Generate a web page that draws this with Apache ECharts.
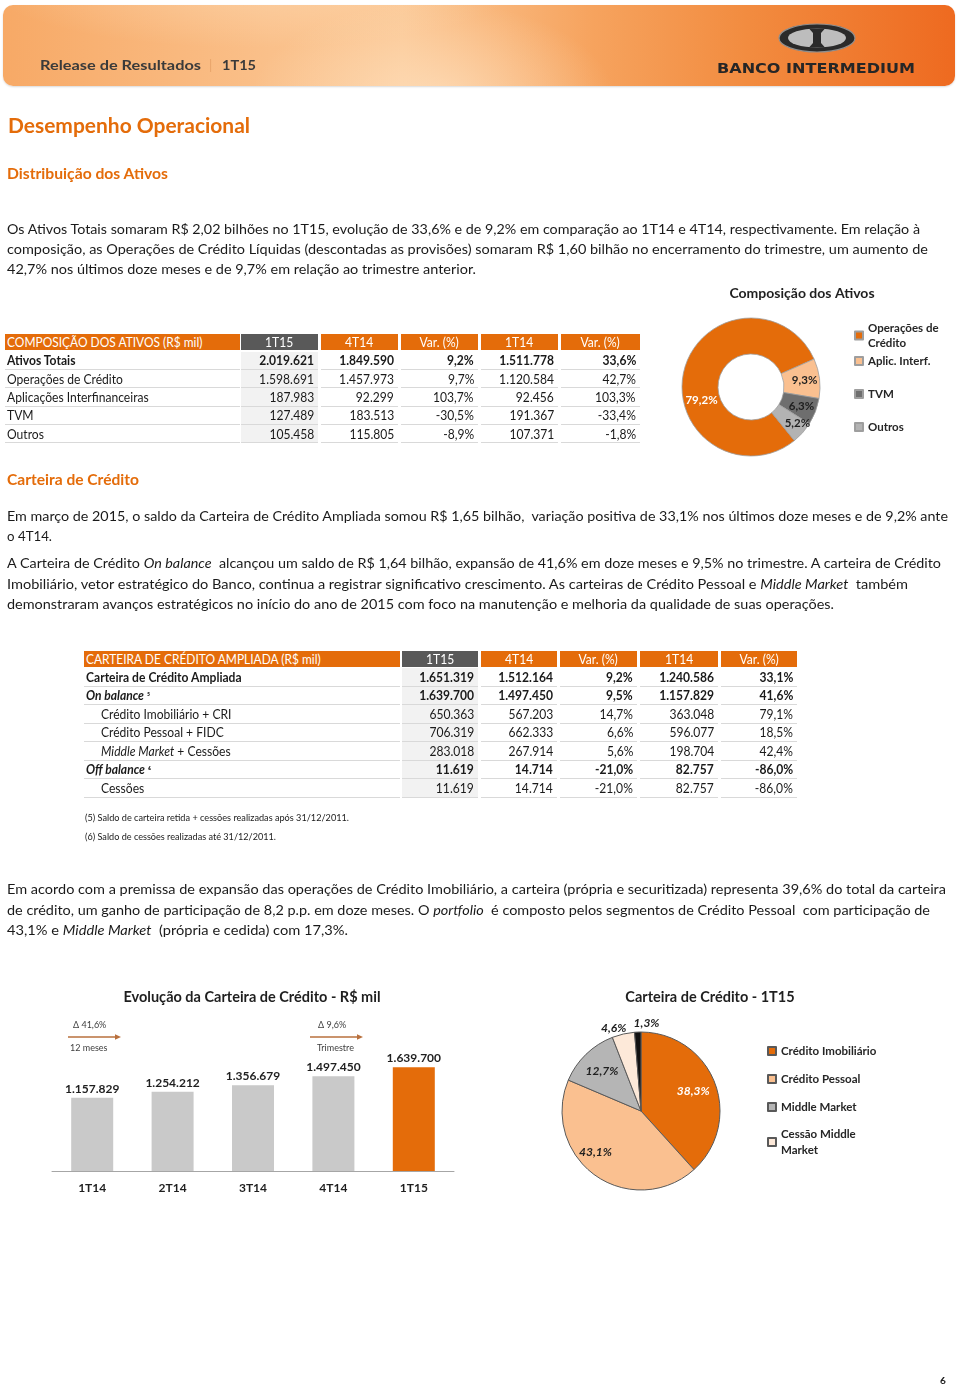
<!DOCTYPE html>
<html><head><meta charset="utf-8">
<script src="https://cdn.jsdelivr.net/npm/echarts@6/dist/echarts.min.js"></script>
<style>
html,body{margin:0;padding:0;background:#fff;}
#page{position:relative;width:960px;height:1387px;overflow:hidden;font-family:Lato,'Open Sans',sans-serif;color:#1a1a1a;}
#chart{position:absolute;left:0;top:0;width:960px;height:1387px;}
.t{position:absolute;white-space:nowrap;transform-origin:0 50%;}
#banner{position:absolute;left:3px;top:5px;width:952px;height:81px;border-radius:10px;
background:
 radial-gradient(ellipse 260px 140px at 430px 95px, rgba(255,230,200,0.65), rgba(255,230,200,0) 70%),
 radial-gradient(ellipse 380px 90px at 250px -20px, rgba(255,225,190,0.45), rgba(255,225,190,0) 70%),
 linear-gradient(90deg,#F7A966 0%,#FAC08A 28%,#FBC794 42%,#F6A35E 62%,#F28C40 78%,#EE6A20 100%);
box-shadow:0 1px 2px rgba(0,0,0,0.15);}
</style></head><body>
<div id="page"><div id="chart"></div><div id="banner"></div>
<svg width="90" height="40" style="position:absolute;left:772px;top:18px">
<ellipse cx="45" cy="20" rx="38" ry="14" fill="#2A2A2A" stroke="#8E8E8E" stroke-width="1.2"/>
<ellipse cx="45" cy="20" rx="29" ry="9.5" fill="#BDBDBD"/>
<path d="M37 10.5 H53 L49 15 V25 L53 29.5 H37 L41 25 V15 Z" fill="#2A2A2A"/>
</svg>
</div>
<script>
// ---------- DATA ----------
const assetCols = ['1T15', '4T14', 'Var. (%)', '1T14', 'Var. (%)'];
const assetRows = ['Ativos Totais', 'Operações de Crédito', 'Aplicações Interfinanceiras', 'TVM', 'Outros'];
const assets1T15 = [2019621, 1598691, 187983, 127489, 105458];
const assets4T14 = [1849590, 1457973, 92299, 183513, 115805];
const assetsVarQ = [9.2, 9.7, 103.7, -30.5, -8.9];
const assets1T14 = [1511778, 1120584, 92456, 191367, 107371];
const assetsVarY = [33.6, 42.7, 103.3, -33.4, -1.8];

const assetShareNames = ['Operações de Crédito', 'Aplic. Interf.', 'TVM', 'Outros'];
const assetShares = [79.2, 9.3, 6.3, 5.2];

const creditCols = ['1T15', '4T14', 'Var. (%)', '1T14', 'Var. (%)'];
const creditRows = ['Carteira de Crédito Ampliada', 'On balance ⁵', 'Crédito Imobiliário + CRI', 'Crédito Pessoal + FIDC', 'Middle Market + Cessões', 'Off balance ⁶', 'Cessões'];
const creditIndent = [0, 0, 1, 1, 1, 0, 1];
const credit1T15 = [1651319, 1639700, 650363, 706319, 283018, 11619, 11619];
const credit4T14 = [1512164, 1497450, 567203, 662333, 267914, 14714, 14714];
const creditVarQ = [9.2, 9.5, 14.7, 6.6, 5.6, -21.0, -21.0];
const credit1T14 = [1240586, 1157829, 363048, 596077, 198704, 82757, 82757];
const creditVarY = [33.1, 41.6, 79.1, 18.5, 42.4, -86.0, -86.0];

const evoQuarters = ['1T14', '2T14', '3T14', '4T14', '1T15'];
const evoValues = [1157829, 1254212, 1356679, 1497450, 1639700];
const growthDeltas = ['Δ 41,6%', 'Δ 9,6%'];
const growthPeriods = ['12 meses', 'Trimestre'];

const portfolioNames = ['Crédito Imobiliário', 'Crédito Pessoal', 'Middle Market', 'Cessão Middle Market', 'Outros'];
const portfolioShares = [38.3, 43.1, 12.7, 4.6, 1.3];

// ---------- HELPERS ----------
const page = document.getElementById('page');
const fmtInt = n => String(n).replace(/\B(?=(\d{3})+(?!\d))/g, '.');
const fmtPct = v => v.toFixed(1).replace('.', ',') + '%';
const ORANGE = '#E46C0A';
const fits = [];
function addText(x, yc, html, o) {
  o = o || {};
  const fs = o.fs || 14, lh = o.lh || Math.round(fs * 1.4);
  const d = document.createElement('div');
  d.className = 't';
  d.style.cssText = `left:${x}px;top:${yc - lh / 2}px;height:${lh}px;line-height:${lh}px;font-size:${fs}px;` + (o.css || '');
  d.innerHTML = html;
  page.appendChild(d);
  if (o.w) fits.push([d, o.w]);
  else if (o.sx) d.style.transform = `scaleX(${o.sx})`;
  return d;
}
function doFit() {
  fits.forEach(([d, w]) => {
    d.style.transform = 'none';
    const nat = d.getBoundingClientRect().width;
    if (nat > 0) d.style.transform = `scaleX(${w / nat})`;
  });
}
function cell(x, y, w, h, text, o) {
  o = o || {};
  const al = o.align || 'left';
  const d = document.createElement('div');
  d.style.cssText = `position:absolute;left:${x}px;top:${y}px;width:${w}px;height:${h}px;display:flex;align-items:center;box-sizing:border-box;white-space:nowrap;font-size:${o.fs || 13}px;color:${o.color || '#1a1a1a'};` +
    `justify-content:${al === 'right' ? 'flex-end' : al === 'center' ? 'center' : 'flex-start'};` +
    (al === 'right' ? `padding-right:${o.pad == null ? 4 : o.pad}px;` : al === 'left' ? `padding-left:${o.pad == null ? 2 : o.pad}px;` : '') +
    (o.bg ? `background:${o.bg};` : '') + (o.border ? `border-bottom:1px solid ${o.border};` : '') + (o.css || '');
  const s = document.createElement('span');
  s.innerHTML = text;
  s.style.cssText = `display:inline-block;transform:scaleX(${o.sx || 0.93});transform-origin:${al === 'right' ? 'right' : al === 'center' ? 'center' : 'left'} center;`;
  d.appendChild(s);
  page.appendChild(d);
}
function buildTable(cfg) {
  const { cols, colX, headTop, headH, rowTop, rowH, headLabel, labels, valueCols, boldRows, labelFn, indent } = cfg;
  cell(colX[0][0], headTop, colX[0][1] - colX[0][0], headH, headLabel, { bg: ORANGE, color: '#fff', pad: 2, sx: 0.92 });
  cols.forEach((c, i) => {
    const [a, b] = colX[i + 1];
    cell(a, headTop, b - a, headH, c, { bg: i === 0 ? '#595959' : ORANGE, color: '#fff', align: 'center' });
  });
  labels.forEach((lab, r) => {
    const y = rowTop + r * rowH;
    const bold = boldRows.indexOf(r) >= 0;
    const bcss = bold ? 'font-weight:bold;' : '';
    cell(colX[0][0], y, colX[0][1] - colX[0][0], rowH, labelFn(lab, r), { border: '#D9D9D9', pad: 2 + (indent ? indent[r] * 15 : 0), css: bcss });
    valueCols.forEach((vals, i) => {
      const [a, b] = colX[i + 1];
      const isPct = i === 2 || i === 4;
      cell(a, y, b - a, rowH, isPct ? fmtPct(vals[r]) : fmtInt(vals[r]), { align: 'right', pad: 4, bg: i === 0 ? '#F2F2F2' : null, border: '#D9D9D9', css: bcss });
    });
  });
}

// ---------- HEADER ----------
addText(40, 65, 'Release de Resultados', { fs: 14, w: 161, css: 'font-weight:bold;color:#3A3A3A;' });
addText(209, 65, '|', { fs: 13, css: 'color:#E8A46A;' });
addText(222, 65, '1T15', { fs: 14, w: 34, css: 'font-weight:bold;color:#3A3A3A;' });
addText(717, 68, 'BANCO INTERMEDIUM', { fs: 14, w: 198, css: "font-family:'DejaVu Sans',sans-serif;font-weight:bold;color:#262626;" });

// ---------- TEXT ----------
const H = 'font-weight:bold;color:' + ORANGE + ';';
addText(8, 124, 'Desempenho Operacional', { fs: 21, w: 242, css: H });
addText(7, 173, 'Distribuição dos Ativos', { fs: 15.5, w: 161, css: H });
addText(7, 229, 'Os Ativos Totais somaram R$ 2,02 bilhões no 1T15, evolução de 33,6% e de 9,2% em comparação ao 1T14 e 4T14, respectivamente. Em relação à', { w: 913 });
addText(7, 249, 'composição, as Operações de Crédito Líquidas (descontadas as provisões) somaram R$ 1,60 bilhão no encerramento do trimestre, um aumento de', { w: 921 });
addText(7, 269, '42,7% nos últimos doze meses e de 9,7% em relação ao trimestre anterior.', { w: 469 });

addText(7, 479, 'Carteira de Crédito', { fs: 15.5, w: 132, css: H });
addText(7, 516, 'Em março de 2015, o saldo da Carteira de Crédito Ampliada somou R$ 1,65 bilhão,&nbsp; variação positiva de 33,1% nos últimos doze meses e de 9,2% ante', { w: 941 });
addText(7, 536, 'o 4T14.', { w: 45 });
addText(7, 563, 'A Carteira de Crédito <i>On balance</i>&nbsp; alcançou um saldo de R$ 1,64 bilhão, expansão de 41,6% em doze meses e 9,5% no trimestre. A carteira de Crédito', { w: 934 });
addText(7, 584, 'Imobiliário, vetor estratégico do Banco, continua a registrar significativo crescimento. As carteiras de Crédito Pessoal e <i>Middle Market</i>&nbsp; também', { w: 901 });
addText(7, 604, 'demonstraram avanços estratégicos no início do ano de 2015 com foco na manutenção e melhoria da qualidade de suas operações.', { w: 827 });

addText(85, 817, '(5) Saldo de carteira retida + cessões realizadas após 31/12/2011.', { fs: 9, w: 264 });
addText(85, 836, '(6) Saldo de cessões realizadas até 31/12/2011.', { fs: 9, w: 191 });

addText(7, 889, 'Em acordo com a premissa de expansão das operações de Crédito Imobiliário, a carteira (própria e securitizada) representa 39,6% do total da carteira', { w: 939 });
addText(7, 910, 'de crédito, um ganho de participação de 8,2 p.p. em doze meses. O <i>portfolio</i>&nbsp; é composto pelos segmentos de Crédito Pessoal&nbsp; com participação de', { w: 923 });
addText(7, 930, '43,1% e <i>Middle Market</i>&nbsp; (própria e cedida) com 17,3%.', { w: 341 });

addText(940, 1380, '6', { fs: 10, css: 'font-weight:bold;' });

// ---------- TABLES ----------
buildTable({
  cols: assetCols, colX: [[5, 240], [241, 318], [321, 398], [401, 478], [481, 558], [561, 640]],
  headTop: 334, headH: 16, rowTop: 351.5, rowH: 18.4,
  headLabel: 'COMPOSIÇÃO DOS ATIVOS (R$ mil)', labels: assetRows,
  valueCols: [assets1T15, assets4T14, assetsVarQ, assets1T14, assetsVarY],
  boldRows: [0], labelFn: s => s
});
const italicWords = ['On balance', 'Off balance', 'Middle Market'];
buildTable({
  cols: creditCols, colX: [[84, 400], [402, 478], [481, 557], [560, 637], [640, 718], [721, 797]],
  headTop: 651, headH: 16, rowTop: 668, rowH: 18.5,
  headLabel: 'CARTEIRA DE CRÉDITO AMPLIADA (R$ mil)', labels: creditRows,
  valueCols: [credit1T15, credit4T14, creditVarQ, credit1T14, creditVarY],
  boldRows: [0, 1, 5], indent: creditIndent,
  labelFn: s => { italicWords.forEach(w => { s = s.replace(w, '<i>' + w + '</i>'); }); return s.replace(/([⁵⁶])/, '<span style="font-size:10px">$1</span>'); }
});

doFit();
if (document.fonts && document.fonts.ready) document.fonts.ready.then(doFit);

// ---------- CHARTS ----------
const FONT = 'Lato, "Open Sans", sans-serif';
const DARK = '#1F1F1F';
const donutColors = [ORANGE, '#FAC090', '#6E6E6E', '#B3B3B3'];
const pieColors = [ORANGE, '#FAC090', '#B5B5B5', '#FDE9D9', '#111111'];
const arrowColor = '#B9703D';
const legendBreaks = { 'Operações de Crédito': 'Operações de\nCrédito', 'Cessão Middle Market': 'Cessão Middle\nMarket' };

function mkLegend(name, left, top, lh) {
  return {
    data: [name], left: left, top: top, orient: 'vertical', padding: 0,
    icon: 'rect', itemWidth: 8, itemHeight: 8, selectedMode: false,
    formatter: n => legendBreaks[n] || n,
    textStyle: { fontFamily: FONT, fontSize: 11.5, fontWeight: 'bold', color: '#262626', lineHeight: lh }
  };
}

const chart = echarts.init(document.getElementById('chart'), null, { renderer: 'canvas' });
const lastIdx = evoValues.length - 1;
const option = {
  animation: false,
  textStyle: { fontFamily: FONT },
  title: [
    { text: 'Composição dos Ativos', left: 802, top: 286, textAlign: 'center', padding: 0, textStyle: { fontSize: 14, fontWeight: 'bold', color: DARK, fontFamily: FONT } },
    { text: 'Evolução da Carteira de Crédito - R$ mil', left: 252, top: 990, textAlign: 'center', padding: 0, textStyle: { fontSize: 14.5, fontWeight: 'bold', color: DARK, fontFamily: FONT } },
    { text: 'Carteira de Crédito - 1T15', left: 710, top: 990, textAlign: 'center', padding: 0, textStyle: { fontSize: 14.5, fontWeight: 'bold', color: DARK, fontFamily: FONT } }
  ],
  legend: [
    mkLegend(assetShareNames[0], 854, 320.5, 15),
    mkLegend(assetShareNames[1], 854, 353.5, 15),
    mkLegend(assetShareNames[2], 854, 386.5, 15),
    mkLegend(assetShareNames[3], 854, 419.5, 15),
    mkLegend(portfolioNames[0], 767, 1043, 16),
    mkLegend(portfolioNames[1], 767, 1071, 16),
    mkLegend(portfolioNames[2], 767, 1099, 16),
    mkLegend(portfolioNames[3], 767, 1126, 16)
  ],
  grid: { left: 52, top: 1044.5, width: 402, height: 126.5 },
  xAxis: {
    type: 'category', data: evoQuarters,
    axisLine: { lineStyle: { color: '#A6A6A6', width: 1 } },
    axisTick: { show: false },
    axisLabel: { fontSize: 12, fontWeight: 'bold', color: DARK, margin: 11, fontFamily: FONT }
  },
  yAxis: { type: 'value', min: 0, max: 2000000, show: false },
  graphic: [
    { type: 'text', x: 73, y: 1021, style: { text: growthDeltas[0], fontSize: 9, fill: '#404040', fontFamily: FONT } },
    { type: 'line', shape: { x1: 68, y1: 1037, x2: 116, y2: 1037 }, style: { stroke: arrowColor, lineWidth: 1.3 } },
    { type: 'polygon', shape: { points: [[121, 1037], [115, 1034.3], [115, 1039.7]] }, style: { fill: arrowColor } },
    { type: 'text', x: 70, y: 1044, style: { text: growthPeriods[0], fontSize: 9, fill: '#404040', fontFamily: FONT } },
    { type: 'text', x: 318, y: 1021, style: { text: growthDeltas[1], fontSize: 9, fill: '#404040', fontFamily: FONT } },
    { type: 'line', shape: { x1: 310, y1: 1037, x2: 358, y2: 1037 }, style: { stroke: arrowColor, lineWidth: 1.3 } },
    { type: 'polygon', shape: { points: [[363, 1037], [357, 1034.3], [357, 1039.7]] }, style: { fill: arrowColor } },
    { type: 'text', x: 317, y: 1044, style: { text: growthPeriods[1], fontSize: 9, fill: '#404040', fontFamily: FONT } }
  ],
  series: [
    {
      type: 'bar', barWidth: 42, silent: true,
      data: evoValues.map((v, i) => i === lastIdx ? { value: v, itemStyle: { color: ORANGE } } : v),
      itemStyle: { color: '#C9C9C9' },
      label: { show: true, position: 'top', distance: 3, fontSize: 12, fontWeight: 'bold', color: DARK, fontFamily: FONT, formatter: p => fmtInt(p.value) }
    },
    {
      type: 'pie', name: 'Composição dos Ativos', center: [751, 387], radius: [33, 69], startAngle: -51, clockwise: true, silent: true,
      avoidLabelOverlap: false,
      data: assetShareNames.map((n, i) => ({ name: n, value: assetShares[i], itemStyle: { color: donutColors[i] }, label: i === 0 ? { color: '#fff' } : {} })),
      itemStyle: { borderColor: '#9E9E9E', borderWidth: 0.8 },
      label: { show: true, position: 'inside', fontSize: 11.5, fontWeight: 'bold', color: '#1F1F1F', fontFamily: FONT, formatter: p => fmtPct(p.value) },
      labelLine: { show: false },
      labelLayout: p => p.dataIndex === 0 ? { dx: 3, dy: 26 } : (p.dataIndex === 3 ? { dx: 6 } : {})
    },
    {
      type: 'pie', name: 'Carteira de Crédito', center: [641, 1111], radius: [0, 79], startAngle: 90, clockwise: true, silent: true,
      data: portfolioNames.map((n, i) => ({ name: n, value: portfolioShares[i], itemStyle: { color: pieColors[i] } })),
      itemStyle: { borderColor: '#595959', borderWidth: 1 },
      label: { show: false }, labelLine: { show: false }
    },
    {
      type: 'pie', name: 'Carteira de Crédito rótulos', center: [641, 1111], radius: [27, 79], startAngle: 90, clockwise: true, silent: true,
      avoidLabelOverlap: false,
      data: portfolioNames.map((n, i) => ({
        name: n, value: portfolioShares[i],
        label: i === 0 ? { color: '#fff' } : (i >= 3 ? { position: 'outside' } : {}),
        labelLine: { show: false, length: 4, length2: 0 }
      })),
      itemStyle: { color: 'rgba(0,0,0,0)', borderWidth: 0 },
      label: { show: true, position: 'inside', distanceToLabelLine: 0, fontSize: 12, fontWeight: 'bold', fontStyle: 'italic', color: '#1F1F1F', fontFamily: FONT, formatter: p => fmtPct(p.value) },
      labelLine: { show: false, length: 4, length2: 0 },
      labelLayout: p => p.dataIndex === 1 ? { dx: -13, dy: -4 } : (p.dataIndex === 3 ? { dx: 4, dy: -2 } : (p.dataIndex === 4 ? { align: 'left', dx: -4, dy: -5 } : {}))
    }
  ]
};
chart.setOption(option);
</script>
</body></html>
